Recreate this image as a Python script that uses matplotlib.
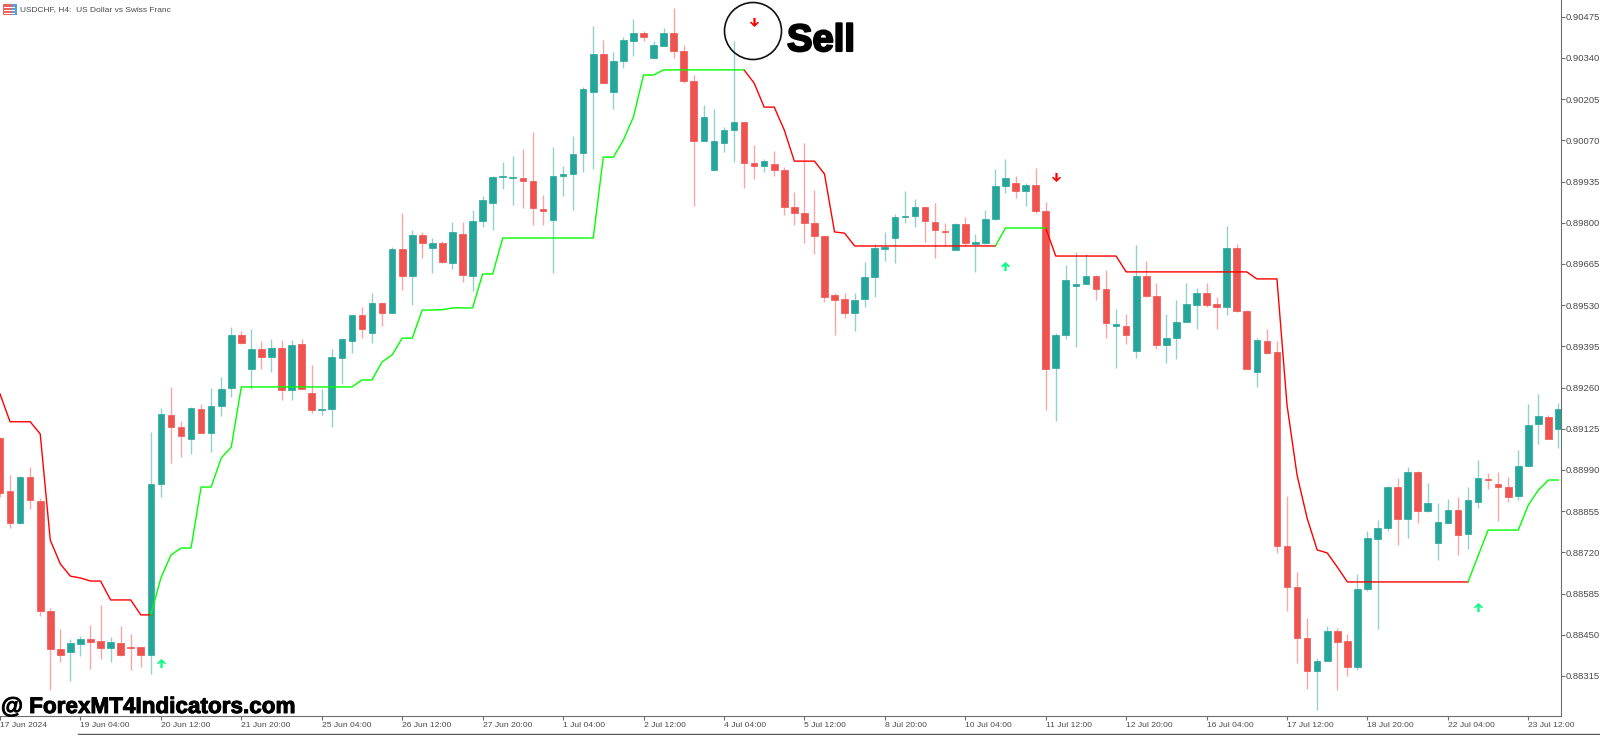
import matplotlib
matplotlib.use("Agg")
import matplotlib.pyplot as plt
from matplotlib.patches import Circle, Rectangle
from matplotlib.path import Path
import matplotlib.patheffects as pe
import numpy as np

# quotes in 1e-5 price units, one row per H4 bar
quotes = [
    (89095,89098,88901,88914),(88921,88973,88800,88816),(88816,88970,88813,88967),(88967,89000,88862,88892),
    (88889,88898,88511,88528),(88528,88538,88269,88403),(88403,88469,88361,88384),(88393,88436,88298,88423),
    (88420,88446,88380,88436),(88436,88482,88338,88426),(88430,88547,88370,88406),(88406,88443,88361,88426),
    (88423,88479,88380,88384),(88410,88453,88334,88406),(88410,88410,88344,88384),(88384,89114,88321,88944),
    (88944,89193,88901,89173),(89170,89262,89013,89131),(89131,89150,89032,89101),(89091,89196,89042,89193),
    (89190,89206,89111,89111),(89111,89259,89049,89200),(89200,89295,89167,89255),(89259,89458,89229,89432),
    (89432,89445,89403,89406),(89321,89452,89255,89386),(89386,89413,89321,89360),(89360,89419,89311,89390),
    (89390,89416,89219,89252),(89252,89416,89219,89399),(89403,89419,89255,89255),(89242,89334,89177,89186),
    (89186,89255,89170,89190),(89190,89386,89131,89360),(89357,89422,89272,89419),(89413,89498,89373,89498),
    (89498,89524,89422,89452),(89439,89570,89406,89537),(89537,89540,89462,89504),(89504,89721,89504,89714),
    (89714,89832,89580,89626),(89626,89776,89530,89760),(89760,89770,89685,89734),(89717,89750,89635,89734),
    (89734,89740,89668,89671),(89668,89803,89648,89770),(89763,89803,89606,89629),(89626,89842,89576,89806),
    (89806,89888,89786,89875),(89865,89953,89776,89950),(89950,89999,89911,89953),(89947,90019,89858,89950),
    (89947,90042,89848,89937),(89937,90097,89793,89848),(89845,89891,89793,89839),(89809,90048,89635,89953),
    (89953,89986,89888,89960),(89960,90084,89842,90025),(90029,90245,89966,90238),(90229,90445,89976,90353),
    (90353,90399,90258,90258),(90229,90360,90173,90330),(90330,90409,90307,90399),(90396,90468,90346,90422),
    (90422,90428,90396,90409),(90340,90396,90340,90383),(90379,90438,90379,90422),(90422,90504,90340,90363),
    (90363,90383,90258,90265),(90265,90284,89855,90068),(90068,90186,90068,90147),(89973,90173,89973,90068),
    (90061,90114,90032,90104),(90104,90396,89999,90130),(90130,90130,89914,89996),(89996,90055,89943,89986),
    (89986,90009,89966,90002),(89993,90035,89953,89973),(89973,89983,89825,89852),(89852,89901,89793,89832),
    (89832,90061,89734,89799),(89799,89907,89698,89757),(89757,89757,89540,89557),(89563,89570,89432,89547),
    (89550,89570,89488,89504),(89504,89570,89445,89547),(89550,89671,89524,89622),(89622,89730,89557,89717),
    (89714,89770,89675,89721),(89750,89829,89668,89819),(89819,89904,89799,89822),(89822,89878,89786,89852),
    (89852,89852,89737,89806),(89803,89865,89685,89776),(89773,89799,89724,89770),(89711,89799,89711,89796),
    (89796,89819,89724,89734),(89730,89763,89639,89737),(89734,89842,89730,89812),(89812,89976,89809,89920),
    (89920,90009,89898,89947),(89930,89953,89881,89904),(89904,89930,89855,89924),(89924,89979,89832,89839),
    (89839,89868,89186,89321),(89324,89439,89150,89432),(89432,89662,89419,89612),(89593,89704,89393,89599),
    (89599,89698,89599,89626),(89626,89629,89547,89583),(89583,89645,89422,89472),(89462,89517,89324,89468),
    (89462,89501,89403,89432),(89380,89727,89357,89626),(89626,89675,89557,89560),(89560,89603,89386,89399),
    (89399,89501,89340,89422),(89422,89547,89354,89475),(89475,89603,89475,89534),(89530,89586,89452,89570),
    (89570,89603,89524,89530),(89534,89557,89452,89524),(89524,89789,89498,89717),(89717,89730,89508,89511),
    (89511,89514,89321,89321),(89311,89422,89262,89416),(89413,89452,89370,89373),(89376,89413,88718,88741),
    (88741,88905,88528,88606),(88606,88656,88357,88439),(88439,88505,88272,88331),(88331,88374,88203,88364),
    (88364,88479,88364,88462),(88462,88472,88269,88426),(88430,88453,88315,88344),(88344,88649,88334,88600),
    (88600,88790,88593,88767),(88764,88826,88469,88800),(88800,88937,88790,88934),(88934,88964,88744,88829),
    (88829,89000,88767,88983),(88983,88987,88816,88855),(88855,88947,88852,88882),(88751,88882,88695,88819),
    (88816,88895,88816,88859),(88859,88901,88711,88777),(88780,88934,88731,88892),(88885,89023,88865,88964),
    (88960,88980,88928,88957),(88944,88983,88823,88934),(88934,88967,88885,88901),(88905,89055,88892,89003),
    (89003,89206,89003,89137),(89140,89239,89075,89167),(89163,89170,89091,89091),(89124,89209,89062,89190),
]

# trailing stop line, one value per bar
stop_line = [
    89239,89148,89148,89148,89108,88760,88682,88642,88636,88626,88626,88564,88564,88564,88515,88515,
    88636,88711,88734,88734,88934,88934,89029,89065,89262,89262,89262,89262,89262,89262,89262,89262,
    89262,89262,89262,89262,89285,89285,89344,89367,89422,89422,89514,89514,89515,89521,89521,89521,
    89632,89632,89750,89750,89750,89750,89750,89750,89750,89750,89750,89750,90015,90015,90071,90147,
    90284,90284,90301,90301,90301,90301,90301,90301,90301,90301,90301,90258,90179,90179,90104,90002,
    90002,90002,89960,89770,89766,89724,89724,89724,89724,89724,89724,89724,89724,89724,89724,89724,
    89724,89724,89724,89724,89783,89783,89783,89783,89783,89691,89691,89691,89691,89691,89691,89691,
    89639,89639,89639,89639,89639,89639,89639,89639,89639,89639,89639,89639,89639,89616,89616,89616,
    89203,88973,88832,88728,88718,88672,88623,88623,88623,88623,88623,88623,88623,88623,88623,88623,
    88623,88623,88623,88708,88793,88793,88793,88793,88875,88924,88957,88957,
]
red_runs = [(0, 15), (74, 99), (104, 146)]
green_runs = [(15, 74), (99, 104), (146, 155)]

buy_bars = [16, 100, 147]
buy_prices = [88357, 89658, 88541]
sell_bars = [75, 105]
sell_prices = [90458, 89950]

price_ticks = [90475 - 135 * i for i in range(17)]
date_labels = ["17 Jun 2024", "19 Jun 04:00", "20 Jun 12:00", "21 Jun 20:00", "25 Jun 04:00",
               "26 Jun 12:00", "27 Jun 20:00", "1 Jul 04:00", "2 Jul 12:00", "4 Jul 04:00",
               "5 Jul 12:00", "8 Jul 20:00", "10 Jul 04:00", "11 Jul 12:00", "12 Jul 20:00",
               "16 Jul 04:00", "17 Jul 12:00", "18 Jul 20:00", "22 Jul 04:00", "23 Jul 12:00"]

UP = "#26a69a"
DOWN = "#ef5350"
AXIS = "#6e6e6e"
TEXT = "#4a4a4a"

plt.rcParams["font.family"] = ["Liberation Sans", "DejaVu Sans"]

fig = plt.figure(figsize=(16, 7.35), dpi=100, facecolor="white")
ax = fig.add_axes([0, 1 - 716 / 735, 1561 / 1600, 716 / 735])

q = np.array(quotes, dtype=float) / 1e5
o, h, l, c = q.T
n = np.arange(len(q))
cols = [UP if c[i] >= o[i] else DOWN for i in n]

ax.vlines(n, l, h, colors=cols, linewidth=1.0, alpha=0.5, zorder=2)
ax.bar(n, np.abs(c - o), bottom=np.minimum(o, c), width=0.66, color=cols,
       edgecolor=cols, linewidth=0.5, zorder=3)

line = np.array(stop_line) / 1e5
for a, b in red_runs:
    ax.plot(n[a:b + 1], line[a:b + 1], color="#ff0000", lw=1.0, zorder=4)
for a, b in green_runs:
    ax.plot(n[a:b + 1], line[a:b + 1], color="#00ff00", lw=1.0, zorder=4)

# little MT4 style arrows, thin shaft and swept head
up_arrow = Path([(0, 1), (-1, 0.05), (-0.75, -0.2), (-0.25, 0.25), (-0.25, -1), (0.25, -1),
                 (0.25, 0.25), (0.75, -0.2), (1, 0.05), (0, 1)], closed=True)
down_arrow = Path([(0, -1), (-1, -0.05), (-0.75, 0.2), (-0.25, -0.25), (-0.25, 1), (0.25, 1),
                   (0.25, -0.25), (0.75, 0.2), (1, -0.05), (0, -1)], closed=True)
ax.plot(buy_bars, np.array(buy_prices) / 1e5, ls="none", marker=up_arrow, ms=6.5, color="#00ff7f", mew=0, zorder=5)
ax.plot(sell_bars, np.array(sell_prices) / 1e5, ls="none", marker=down_arrow, ms=6.5, color="#ff0000", mew=0, zorder=5)

ax.set_xlim(0.2, 155.25)
ax.set_ylim(0.881837, 0.90530)
ax.spines["left"].set_visible(False)
ax.spines["top"].set_visible(False)
ax.spines["right"].set_color(AXIS)
ax.spines["bottom"].set_color(AXIS)
ax.yaxis.tick_right()
ax.set_yticks(np.array(price_ticks) / 1e5)
ax.set_yticklabels([f"{p / 1e5:.5f}" for p in price_ticks])
ax.tick_params(axis="y", length=3, width=0.8, color=AXIS, labelsize=6.8, labelcolor=TEXT, pad=0.3)
ax.set_xticks(n[::8])
ax.set_xticklabels(date_labels, ha="left")
ax.tick_params(axis="x", length=3, width=0.8, color=AXIS, labelsize=6.1, labelcolor=TEXT, pad=1.5)

# overlay in image pixels for the annotations on top of the chart
over = fig.add_axes([0, 0, 1, 1])
over.set_xlim(0, 1600)
over.set_ylim(735, 0)
over.axis("off")
over.patch.set_alpha(0)

over.add_patch(Circle((753, 31), 28.5, fill=False, ec="#111111", lw=1.2))
over.text(787, 51, "Sell", fontsize=27.5, fontweight="bold", color="black", va="baseline",
          path_effects=[pe.withStroke(linewidth=1.5, foreground="black")])
over.text(1, 713, "@ ForexMT4Indicators.com", fontsize=16.2, fontweight="bold",
          color="black", va="baseline", path_effects=[pe.withStroke(linewidth=0.7, foreground="black")])
over.text(20, 9.5, "USDCHF, H4:  US Dollar vs Swiss Franc", fontsize=6.05, color=TEXT, va="center")

# chart icon next to the symbol name
over.add_patch(Rectangle((2.5, 4), 9.5, 11, fc="#e8655f", ec="none"))
over.add_patch(Rectangle((12, 4), 4.5, 11, fc="#5b9fd6", ec="none"))
for row in (7, 10, 13):
    over.add_patch(Rectangle((4, row - 0.5), 11, 1, fc="white", ec="none"))

over.plot([78, 1600], [733.5, 733.5], color="#555555", lw=1)

fig.savefig("out.png", dpi=100, facecolor="white")
